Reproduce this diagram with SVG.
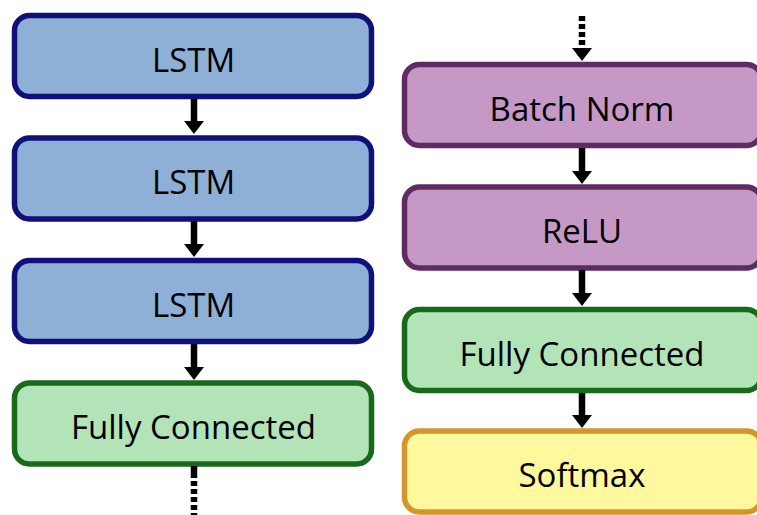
<svg xmlns="http://www.w3.org/2000/svg" width="757" height="515" viewBox="0 0 757 515">
  <defs>
    <!-- downward arrowhead, tip at the origin -->
    <path id="head" d="M-10,-13 L10,-13 L0,0 Z" fill="#000"/>
  </defs>
  <style>
    .box { stroke-width: 5.5; }
    .lstm { fill: #8eb0d6; stroke: #10107a; }
    .bn { fill: #c598c5; stroke: #5f2b63; }
    .fc { fill: #b3e4b8; stroke: #19691b; }
    .sm { fill: #fff89c; stroke: #d4952c; }
    .lbl { font-family: "Open Sans", "DejaVu Sans", sans-serif; font-size: 33px; fill: #000; text-anchor: middle; }
    .edge { stroke: #000; stroke-width: 6.5; fill: none; }
    .dash { stroke: #000; stroke-width: 6.5; fill: none; stroke-dasharray: 5 3; }
  </style>

  <!-- left column -->
  <g id="lstm1">
    <rect class="box lstm" x="14.5" y="15.5" width="357" height="81" rx="15"/>
    <text class="lbl" x="193.5" y="71.5">LSTM</text>
  </g>
  <g id="lstm2">
    <rect class="box lstm" x="14.5" y="138" width="357" height="81" rx="15"/>
    <text class="lbl" x="193.5" y="194">LSTM</text>
  </g>
  <g id="lstm3">
    <rect class="box lstm" x="14.5" y="260.5" width="357" height="81" rx="15"/>
    <text class="lbl" x="193.5" y="316.5">LSTM</text>
  </g>
  <g id="fc1">
    <rect class="box fc" x="14.5" y="383" width="357" height="81" rx="15"/>
    <text class="lbl" x="193.5" y="439">Fully Connected</text>
  </g>

  <!-- right column -->
  <g id="batchnorm">
    <rect class="box bn" x="404.5" y="64.5" width="357" height="81" rx="15"/>
    <text class="lbl" x="582" y="120.5">Batch Norm</text>
  </g>
  <g id="relu">
    <rect class="box bn" x="404.5" y="187" width="357" height="81" rx="15"/>
    <text class="lbl" x="582" y="243">ReLU</text>
  </g>
  <g id="fc2">
    <rect class="box fc" x="404.5" y="309.5" width="357" height="81" rx="15"/>
    <text class="lbl" x="582" y="365.5">Fully Connected</text>
  </g>
  <g id="softmax">
    <rect class="box sm" x="404.5" y="431" width="357" height="81" rx="15"/>
    <text class="lbl" x="582" y="487">Softmax</text>
  </g>

  <!-- connectors -->
  <g id="connectors">
    <line class="edge" x1="194" y1="99" x2="194" y2="122"/>
    <use href="#head" x="194" y="134"/>
    <line class="edge" x1="194" y1="221" x2="194" y2="245"/>
    <use href="#head" x="194" y="257"/>
    <line class="edge" x1="194" y1="344" x2="194" y2="368"/>
    <use href="#head" x="194" y="380"/>
    <line class="edge" x1="194" y1="466" x2="194" y2="478"/>
    <line class="dash" x1="194" y1="481" x2="194" y2="515"/>

    <line class="dash" x1="582" y1="16" x2="582" y2="49"/>
    <use href="#head" x="582" y="61"/>
    <line class="edge" x1="582" y1="148" x2="582" y2="172"/>
    <use href="#head" x="582" y="184"/>
    <line class="edge" x1="582" y1="270" x2="582" y2="294"/>
    <use href="#head" x="582" y="306"/>
    <line class="edge" x1="582" y1="393" x2="582" y2="416"/>
    <use href="#head" x="582" y="428"/>
  </g>
</svg>
